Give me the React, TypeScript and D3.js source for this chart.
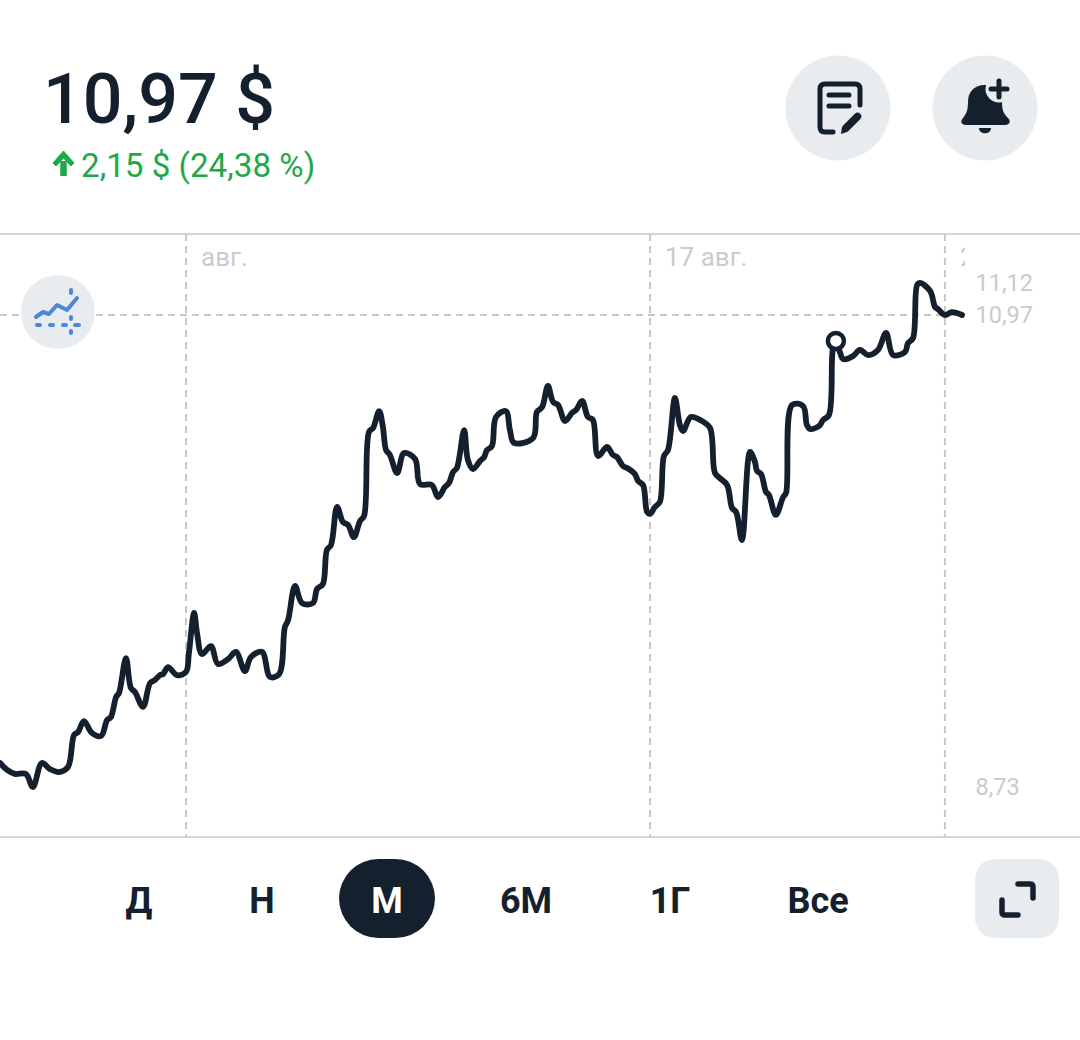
import React from "react";
import * as d3 from "d3";

// Trading days counted from 1 Aug
const days = [-6.41,-6.17,-5.90,-5.52,-5.28,-4.97,-4.69,-4.38,-4.07,-3.86,-3.72,-3.52,-3.24,-2.93,-2.72,-2.59,-2.41,-2.31,-2.07,-1.90,-1.76,-1.48,-1.24,-1.07,-0.90,-0.79,-0.62,-0.31,0,0.10,0.28,0.38,0.55,0.86,1.10,1.45,1.72,2.03,2.24,2.62,2.90,3.21,3.41,3.52,3.76,4.00,4.38,4.52,4.72,4.86,5.00,5.21,5.41,5.59,5.79,6.00,6.14,6.31,6.45,6.66,6.79,6.90,7.03,7.28,7.52,7.90,8.07,8.48,8.69,8.93,9.07,9.21,9.34,9.59,9.72,9.90,10.14,10.28,10.38,10.55,10.69,11.03,11.17,11.31,11.97,12.10,12.28,12.48,12.66,12.83,13.07,13.31,13.45,13.66,13.86,14.03,14.21,14.52,14.72,14.86,15.07,15.21,15.48,15.59,15.76,15.90,16.00,16.17,16.34,16.48,16.62,16.86,17.03,17.14,17.41,17.79,18.07,18.24,18.41,18.66,18.83,18.97,19.17,19.45,19.62,19.69,19.83,20.00,20.10,20.34,20.59,20.69,20.90,21.28,21.41,21.52,21.83,21.97,22.17,22.31,22.41,22.55,22.66,23.00,23.24,23.52,23.86,24.14,24.38,24.79,24.90,25.07,25.21,25.31,25.66,25.83,25.93,26.17,26.41,26.76];
const prices = [8.844,8.811,8.792,8.792,8.730,8.844,8.815,8.801,8.825,8.977,8.991,9.043,8.986,8.972,9.048,9.062,9.157,9.176,9.342,9.200,9.181,9.110,9.223,9.238,9.261,9.266,9.299,9.261,9.276,9.366,9.556,9.461,9.361,9.399,9.314,9.337,9.371,9.280,9.347,9.371,9.252,9.266,9.489,9.522,9.684,9.603,9.603,9.670,9.693,9.855,9.878,10.059,9.988,9.973,9.916,9.992,10.016,10.415,10.434,10.514,10.438,10.329,10.306,10.220,10.315,10.287,10.168,10.163,10.106,10.154,10.173,10.225,10.244,10.424,10.282,10.239,10.277,10.296,10.329,10.348,10.486,10.514,10.424,10.363,10.386,10.510,10.533,10.633,10.557,10.543,10.467,10.505,10.519,10.562,10.486,10.472,10.301,10.344,10.306,10.296,10.253,10.244,10.215,10.182,10.163,10.035,10.026,10.059,10.083,10.301,10.329,10.576,10.448,10.419,10.486,10.467,10.434,10.220,10.196,10.163,10.054,10.035,9.902,10.320,10.272,10.230,10.215,10.130,10.116,10.021,10.106,10.125,10.543,10.538,10.448,10.429,10.443,10.472,10.495,10.813,10.842,10.794,10.761,10.775,10.804,10.780,10.804,10.885,10.780,10.794,10.837,10.861,11.112,11.122,11.084,11.008,10.998,10.970,10.984,10.970];

const gridDays = [0, 16, 26.17];
const gridLabels = ["авг.", "17 авг.", "24 авг."];
const priceTicks = [11.12, 10.97, 8.73];
const currentPrice = 10.97;
const markerDay = 22.41;
const markerPrice = 10.847;
const periods = ["Д", "Н", "М", "6М", "1Г", "Все"];
const periodCentres = [139, 262, 387, 526, 670, 818];
const activePeriod = "М";

const W = 1080, H = 1040;
const DARK = "#14202e", GREY = "#e9ecee", LINE = "#c8c8c8", LABEL = "#c9cbcd", GREEN = "#1fa848", BLUE = "#4c87d9";
const FONT = "Roboto, sans-serif";
const top = 234, bottom = 837, plotRight = 965;

const x = d3.scaleLinear().domain([0, 16]).range([186, 650]);
const y = d3.scaleLinear().domain([8.73, 10.97]).range([787, 315]);
const line = d3.line<number>().x((d) => x(days[d])).y((d) => y(prices[d])).curve(d3.curveCatmullRom.alpha(0.5));
const fmt = (v: number) => v.toFixed(2).replace(".", ",");

export default function App() {
  return (
    <svg width={W} height={H} viewBox={`0 0 ${W} ${H}`} style={{ position: "absolute", left: 0, top: 0, background: "#fff" }} fontFamily={FONT}>
      <defs>
        <clipPath id="plot"><rect x={0} y={top} width={plotRight} height={bottom - top} /></clipPath>
      </defs>

      {/* header */}
      <text x={43} y={123} fontSize={70} fontWeight={500} fill={DARK}>10,97 $</text>
      <path d="M63.5 176V161" fill="none" stroke={GREEN} strokeWidth={6.5} />
      <path d="M53 163L63.5 151L74 163L71 166L63.5 158L56 166Z" fill={GREEN} stroke={GREEN} strokeWidth={1} />
      <text x={81} y={177} fontSize={33.2} fill={GREEN}>2,15 $ (24,38 %)</text>

      {/* note button */}
      <circle cx={838} cy={108} r={52.5} fill={GREY} />
      <path d="M860 105V89Q860 84 855 84H825Q820 84 820 89V127Q820 132 825 132H833" fill="none" stroke={DARK} strokeWidth={5} strokeLinecap="round" />
      <path d="M829 95H849M829 106H849" fill="none" stroke={DARK} strokeWidth={5} strokeLinecap="round" />
      <path d="M857.5 116.5L846 128" fill="none" stroke={DARK} strokeWidth={7.5} strokeLinecap="round" />
      <path d="M841 134L842 127L847 132Z" fill={DARK} />

      {/* bell button */}
      <circle cx={985} cy={108} r={52.5} fill={GREY} />
      <path d="M985 85C973 85 968 93 968 102C968 111 966 114 963 118C960 121 961 125 966 125H1005C1010 125 1011 121 1008 118C1004 114 1002 111 1002 102C1002 93 997 85 985 85Z" fill={DARK} />
      <path d="M979 128H991C991 135 979 135 979 128Z" fill={DARK} />
      <circle cx={999} cy={89} r={13.5} fill={GREY} />
      <path d="M999 81V97M991 89H1007" fill="none" stroke={DARK} strokeWidth={5} strokeLinecap="round" />

      {/* frame and grid */}
      <line x1={0} x2={W} y1={top} y2={top} stroke={LINE} strokeWidth={1.5} />
      <line x1={0} x2={W} y1={bottom} y2={bottom} stroke={LINE} strokeWidth={1.5} />
      {gridDays.map((d) => (
        <line key={d} x1={x(d)} x2={x(d)} y1={top} y2={bottom} stroke={LINE} strokeWidth={2} strokeDasharray="7 5" />
      ))}
      <line x1={0} x2={x(26.17) + 17} y1={y(currentPrice)} y2={y(currentPrice)} stroke={LINE} strokeWidth={2} strokeDasharray="7 5" />

      <g clipPath="url(#plot)">
        {gridDays.map((d, i) => (
          <text key={d} x={x(d) + 15} y={266} fontSize={26} fill={LABEL}>{gridLabels[i]}</text>
        ))}
      </g>
      {priceTicks.map((v) => (
        <text key={v} x={975.5} y={y(v) + 8} fontSize={23.5} fill={LABEL}>{fmt(v)}</text>
      ))}

      {/* indicator button */}
      <circle cx={58} cy={312} r={37} fill={GREY} />
      <path d="M36 317L43 312L49 314L57 305L67 310L77 298" fill="none" stroke={BLUE} strokeWidth={4} strokeLinecap="round" strokeLinejoin="round" />
      <path d="M37 325H40M50 325H53M63 325H66M75 325H79" fill="none" stroke={BLUE} strokeWidth={4} strokeLinecap="round" />
      <path d="M71 290V293M71 317V319M71 331V333" fill="none" stroke={BLUE} strokeWidth={4} strokeLinecap="round" />

      {/* price line */}
      <path d={line(d3.range(days.length)) || ""} fill="none" stroke={DARK} strokeWidth={5.8} strokeLinejoin="round" strokeLinecap="round" />
      <circle cx={x(markerDay)} cy={y(markerPrice)} r={8} fill="#fff" stroke={DARK} strokeWidth={4.5} />

      {/* period selector */}
      <rect x={339} y={859} width={96} height={79} rx={39.5} fill={DARK} />
      {periods.map((p, i) => (
        <text key={p} x={periodCentres[i]} y={913} fontSize={36} fontWeight={700} textAnchor="middle" fill={p === activePeriod ? "#fff" : DARK}>{p}</text>
      ))}

      {/* expand button */}
      <rect x={975} y={859} width={84} height={79} rx={20} fill={GREY} />
      <path d="M1018 884H1030Q1033 884 1033 887V898M1002 900V912Q1002 915 1005 915H1018" fill="none" stroke={DARK} strokeWidth={5.5} strokeLinecap="round" />
    </svg>
  );
}
